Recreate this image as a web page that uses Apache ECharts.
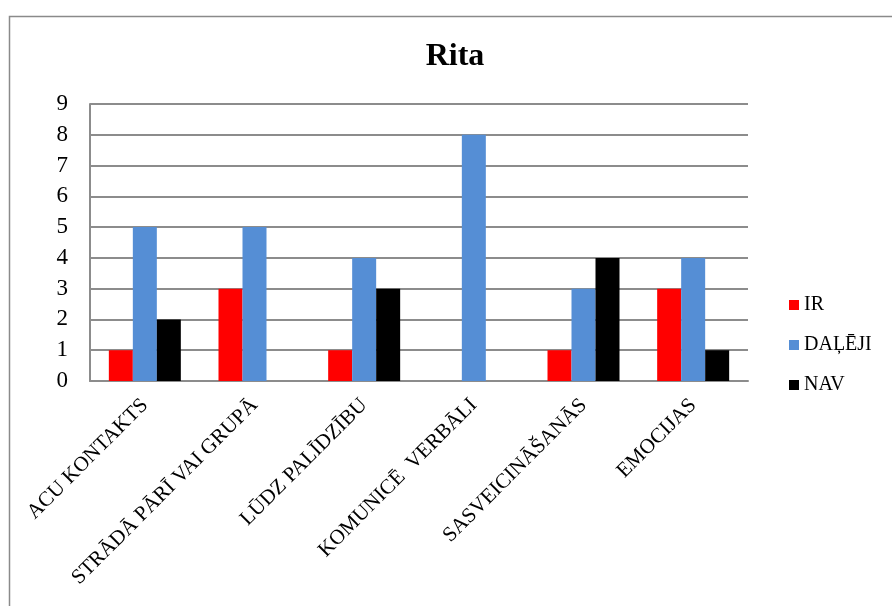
<!DOCTYPE html>
<html>
<head>
<meta charset="utf-8">
<script src="https://cdn.jsdelivr.net/npm/echarts@6/dist/echarts.min.js"></script>
<style>html,body{margin:0;padding:0;background:#fff}#c{width:892px;height:606px}</style>
</head>
<body>
<div id="c"></div>
<script>
const categories = ['ACU KONTAKTS', 'STRĀDĀ PĀRĪ VAI GRUPĀ', 'LŪDZ PALĪDZĪBU', 'KOMUNICĒ  VERBĀLI', 'SASVEICINĀŠANĀS', 'EMOCIJAS'];
const seriesNames = ['IR', 'DAĻĒJI', 'NAV'];
const irValues = [1, 3, 1, 0, 1, 3];
const daljejiValues = [5, 5, 4, 8, 3, 4];
const navValues = [2, 0, 3, 0, 4, 1];
const yTicks = [0, 1, 2, 3, 4, 5, 6, 7, 8, 9];
const colors = ['#FF0000', '#558ED5', '#000000'];

const serif = '"Liberation Serif", "DejaVu Serif", serif';
const chart = echarts.init(document.getElementById('c'));
const mkSeries = (name, data, color) => ({
  name, type: 'bar', data, barWidth: 24, barGap: '0%',
  itemStyle: { color }, emphasis: { disabled: true }
});
chart.setOption({
  animation: false,
  backgroundColor: '#fff',
  graphic: [{
    type: 'rect', left: 7, top: 14, shape: { width: 1000, height: 1000 },
    style: { fill: 'none', stroke: '#8a8a8a', lineWidth: 1.5 }, silent: true
  }],
  title: {
    text: 'Rita', left: 450, top: 36, textAlign: 'center',
    textStyle: { fontFamily: serif, fontSize: 32, fontWeight: 'bold', color: '#000' }
  },
  legend: {
    orient: 'vertical', left: 789, top: 295, padding: 0, itemWidth: 10, itemHeight: 10, itemGap: 20,
    icon: 'rect', data: seriesNames,
    textStyle: { fontFamily: serif, fontSize: 20, color: '#000' }
  },
  grid: { left: 90, top: 104, right: 144, bottom: 225, containLabel: false },
  xAxis: {
    type: 'category', data: categories,
    axisLine: { show: true, lineStyle: { color: '#8c8c8c', width: 2 } },
    axisTick: { show: false },
    axisLabel: { rotate: 45, interval: 0, margin: 21, fontFamily: serif, fontSize: 21, color: '#000' }
  },
  yAxis: {
    type: 'value', min: yTicks[0], max: yTicks[yTicks.length - 1], interval: 1,
    axisLine: { show: true, lineStyle: { color: '#8c8c8c', width: 2 } },
    axisTick: { show: false },
    splitLine: { lineStyle: { color: '#8c8c8c', width: 2 } },
    axisLabel: { margin: 22, fontFamily: serif, fontSize: 23, color: '#000' }
  },
  series: [
    mkSeries(seriesNames[0], irValues, colors[0]),
    mkSeries(seriesNames[1], daljejiValues, colors[1]),
    mkSeries(seriesNames[2], navValues, colors[2])
  ]
});
</script>
</body>
</html>
